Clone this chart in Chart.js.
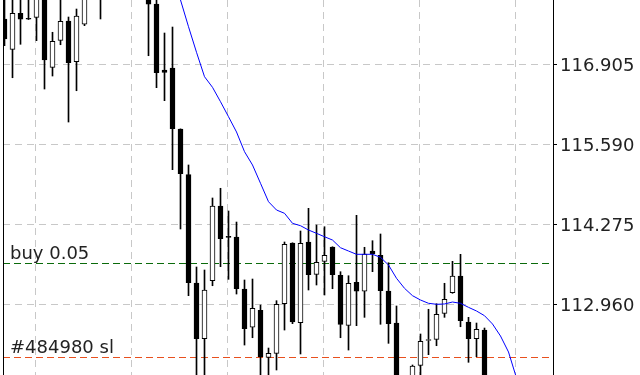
<!DOCTYPE html>
<html>
<head>
<meta charset="utf-8">
<script src="https://cdn.jsdelivr.net/npm/chart.js@4.4.0/dist/chart.umd.min.js"></script>
<style>
  html, body { margin: 0; padding: 0; background: #fff; }
  canvas { display: block; }
</style>
</head>
<body>
<canvas id="chart" width="640" height="375"></canvas>
<script>
/** Candlestick chart (MetaTrader style) drawn with floating bars */

const OPEN = [
  117.643, 117.146, 117.736, 117.651, 117.670, 118.085, 116.851, 117.293, 117.610, 116.943,
  117.556, 118.100, 118.200, 118.020, 118.220, 118.300, 118.180, 118.250, 118.118, 117.888,
  116.807, 116.839, 115.840, 115.091, 113.316, 112.403, 113.353, 114.578, 114.066, 114.070,
  113.217, 112.590, 112.868, 112.098, 112.163, 112.976, 113.971, 112.665, 113.988, 113.458,
  113.671, 113.906, 113.442, 112.622, 113.327, 113.180, 113.840, 113.770, 113.185, 112.660,
  111.420, 111.644, 111.967, 112.374, 112.393, 112.819, 113.157, 113.430, 112.676, 112.403,
  112.545, 111.480, 111.200, 111.050, 110.850, 110.950, 110.600, 110.450, 110.550,
];
const HIGH = [
  118.085, 118.036, 118.003, 118.118, 118.118, 118.200, 117.425, 118.036, 117.675, 117.806,
  118.151, 118.250, 118.300, 118.280, 118.400, 118.450, 118.350, 118.380, 118.200, 118.003,
  117.413, 117.511, 115.842, 115.250, 113.578, 113.529, 114.709, 114.868, 114.496, 114.315,
  113.365, 113.381, 112.955, 112.250, 113.026, 113.988, 113.975, 114.168, 114.540, 114.266,
  114.238, 113.910, 113.501, 113.435, 114.425, 113.901, 114.009, 114.119, 113.648, 112.939,
  111.750, 111.972, 112.480, 112.885, 112.976, 113.311, 113.671, 113.786, 112.753, 112.660,
  112.578, 111.700, 111.450, 111.300, 111.100, 111.050, 110.800, 110.700, 110.650,
];
const LOW = [
  117.205, 116.680, 117.228, 117.634, 117.287, 116.495, 116.708, 117.221, 115.954, 116.467,
  117.533, 118.030, 117.643, 117.980, 118.100, 118.120, 118.050, 118.080, 117.041, 116.517,
  116.304, 115.173, 114.201, 113.108, 111.726, 111.700, 113.271, 113.583, 113.376, 113.135,
  112.299, 112.419, 111.780, 111.760, 111.890, 112.545, 112.649, 112.152, 113.201, 113.283,
  113.119, 113.222, 112.419, 112.217, 112.616, 112.753, 113.501, 112.639, 112.327, 111.070,
  111.200, 111.480, 111.759, 112.141, 112.288, 112.753, 113.147, 112.599, 112.016, 112.108,
  111.234, 111.050, 110.900, 110.700, 110.550, 110.400, 110.300, 110.200, 110.100,
];
const CLOSE = [
  117.315, 117.736, 117.638, 117.638, 118.052, 116.971, 117.277, 117.605, 116.926, 117.692,
  118.052, 118.200, 118.020, 118.220, 118.300, 118.180, 118.250, 118.120, 117.884, 116.762,
  116.769, 115.845, 115.107, 113.321, 112.403, 113.201, 114.578, 114.042, 114.063, 113.222,
  112.567, 112.901, 112.108, 112.163, 112.967, 113.950, 112.676, 113.966, 113.452, 113.655,
  113.770, 113.452, 112.639, 113.311, 113.180, 113.791, 113.791, 113.189, 112.649, 111.398,
  111.600, 111.955, 112.360, 112.378, 112.803, 113.048, 113.430, 112.698, 112.403, 112.557,
  111.480, 111.200, 111.050, 110.850, 110.950, 110.600, 110.450, 110.550, 110.300,
];
const MA = [
  119.60, 119.58, 119.55, 119.52, 119.50, 119.47, 119.44, 119.41, 119.38, 119.36,
  119.33, 119.30, 119.26, 119.22, 119.18, 119.13, 119.07, 119.00, 118.90, 118.75,
  118.55, 118.32, 117.954, 117.516, 117.097, 116.697, 116.523, 116.287, 116.041, 115.791,
  115.468, 115.250, 114.950, 114.648, 114.512, 114.458, 114.294, 114.255, 114.184, 114.130,
  114.074, 114.020, 113.894, 113.840, 113.786, 113.786, 113.786, 113.737, 113.611, 113.393,
  113.229, 113.108, 113.037, 112.983, 112.967, 112.972, 113.004, 112.983, 112.917, 112.857,
  112.780, 112.644, 112.447, 112.185, 111.759, 111.398, 111.070, 110.742, 110.415,
];

const PRICE_TICKS = [116.905, 115.590, 114.275, 112.960];
const TIME_GRID = [3.875, 15.875, 27.875, 39.875, 51.875, 63.875];
const Y_MIN = 111.808;
const Y_MAX = 117.954;
const X_MIN = -0.1875;
const X_MAX = 68.5625;

const LEVEL_PRICES = [113.642, 112.097];
const LEVEL_LABELS = ['buy 0.05', '#484980 sl'];
const LEVEL_COLORS = ['#0b6b0b', '#e8501e'];

const FONT = { family: 'DejaVu Sans', size: 18 };
const TEXT_COLOR = '#222';
const GRID_COLOR = '#c8c8c8';
const GRID_DASH = [7, 5];

const idx = OPEN.map((_, i) => i);

const bodies = idx.map((i) => ({ x: i, y: [OPEN[i], CLOSE[i]] }));
const wicks = idx.map((i) => ({ x: i, y: [LOW[i], HIGH[i]] }));
const bodyFill = idx.map((i) => (CLOSE[i] >= OPEN[i] ? '#ffffff' : '#000000'));
const maLine = idx.map((i) => ({ x: i, y: MA[i] }));

const levelsPlugin = {
  id: 'levels',
  beforeDatasetsDraw(chart) {
    const { ctx, chartArea, scales } = chart;
    ctx.save();
    ctx.lineWidth = 1;
    ctx.setLineDash([7, 4]);
    LEVEL_PRICES.forEach((p, i) => {
      const y = Math.floor(scales.y.getPixelForValue(p)) + 0.5;
      ctx.strokeStyle = LEVEL_COLORS[i];
      ctx.beginPath();
      ctx.moveTo(chartArea.left, y);
      ctx.lineTo(chartArea.right, y);
      ctx.stroke();
    });
    ctx.restore();
  },
  afterDatasetsDraw(chart) {
    const { ctx, chartArea, scales } = chart;
    ctx.save();
    ctx.fillStyle = TEXT_COLOR;
    ctx.font = FONT.size + 'px "' + FONT.family + '"';
    ctx.textAlign = 'left';
    ctx.textBaseline = 'alphabetic';
    LEVEL_PRICES.forEach((p, i) => {
      const y = Math.floor(scales.y.getPixelForValue(p));
      ctx.fillText(LEVEL_LABELS[i], chartArea.left + 7, y - 4);
    });
    // left frame
    ctx.strokeStyle = '#000';
    ctx.lineWidth = 1;
    ctx.beginPath();
    ctx.moveTo(chartArea.left + 0.5, chartArea.top);
    ctx.lineTo(chartArea.left + 0.5, chartArea.bottom);
    ctx.stroke();
    ctx.restore();
  },
};

new Chart(document.getElementById('chart'), {
  type: 'bar',
  data: {
    datasets: [
      {
        type: 'line',
        data: maLine,
        borderColor: '#0000ff',
        borderWidth: 1,
        pointRadius: 0,
        tension: 0,
        order: 0,
      },
      {
        data: bodies,
        backgroundColor: bodyFill,
        borderColor: '#000',
        borderWidth: 1,
        borderSkipped: false,
        barThickness: 5,
        minBarLength: 1,
        grouped: false,
        order: 1,
      },
      {
        data: wicks,
        backgroundColor: '#000',
        borderWidth: 0,
        barThickness: 1,
        grouped: false,
        order: 2,
      },
    ],
  },
  options: {
    responsive: false,
    animation: false,
    layout: { padding: { left: 3, right: 0, top: 0, bottom: 0 } },
    plugins: { legend: { display: false }, tooltip: { enabled: false } },
    scales: {
      x: {
        type: 'linear',
        min: X_MIN,
        max: X_MAX,
        offset: false,
        afterBuildTicks: (s) => { s.ticks = TIME_GRID.map((v) => ({ value: v })); },
        afterFit: (s) => { s.height = 0; },
        grid: { color: GRID_COLOR, drawTicks: false, offset: false },
        border: { display: false, dash: GRID_DASH },
        ticks: { display: false },
      },
      y: {
        position: 'right',
        min: Y_MIN,
        max: Y_MAX,
        afterBuildTicks: (s) => { s.ticks = PRICE_TICKS.map((v) => ({ value: v })); },
        afterFit: (s) => { s.width = 87; s.paddingTop = 0; s.paddingBottom = 0; },
        grid: { color: GRID_COLOR, tickColor: '#000', tickLength: 4 },
        border: { color: '#000', dash: GRID_DASH },
        ticks: {
          font: FONT,
          color: TEXT_COLOR,
          padding: 3,
          labelOffset: 2,
          autoSkip: false,
          callback: (v) => Number(v).toFixed(3),
        },
      },
    },
  },
  plugins: [levelsPlugin],
});
</script>
</body>
</html>
